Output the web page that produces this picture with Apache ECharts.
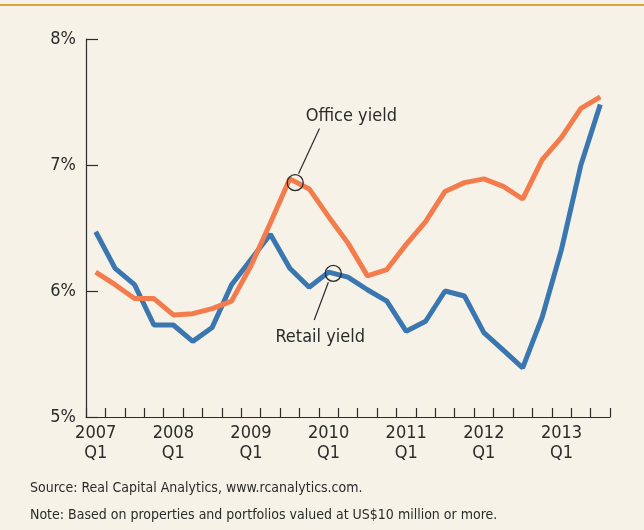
<!DOCTYPE html>
<html>
<head>
<meta charset="utf-8">
<script src="https://cdn.jsdelivr.net/npm/echarts@6/dist/echarts.min.js"></script>
<style>
  html, body { margin: 0; padding: 0; background: #f7f2e8; }
  #main { width: 644px; height: 530px; }
</style>
</head>
<body>
<div id="main"></div>
<script>
// quarters 2007 Q1 .. 2013 Q3
const years = ["2007", "2008", "2009", "2010", "2011", "2012", "2013"];
const quarters = [];
years.forEach((y) => {
  ["Q1", "Q2", "Q3", "Q4"].forEach((q) => quarters.push(y + " " + q));
});
quarters.splice(27);

const retailYield = [6.47, 6.18, 6.05, 5.73, 5.73, 5.60, 5.71, 6.05, 6.25, 6.45,
  6.18, 6.03, 6.15, 6.11, 6.01, 5.92, 5.68, 5.76, 6.00, 5.96,
  5.67, 5.53, 5.39, 5.79, 6.33, 7.00, 7.48];
const officeYield = [6.15, 6.05, 5.94, 5.94, 5.81, 5.82, 5.86, 5.92, 6.20, 6.54,
  6.89, 6.81, 6.59, 6.38, 6.12, 6.17, 6.37, 6.55, 6.79, 6.86,
  6.89, 6.83, 6.73, 7.04, 7.22, 7.45, 7.54];

const yTicks = [5, 6, 7, 8];

// callouts, in (quarter index, yield) units
const officeCircle = [10.28, 6.86];
const officeLeader = [[10.45, 6.93], [11.53, 7.29]];
const officeLabelPos = [13.17, 7.385];
const retailCircle = [12.24, 6.14];
const retailLeader = [[11.99, 6.07], [11.26, 5.77]];
const retailLabelPos = [11.57, 5.635];

const font = '"Liberation Sans Narrow", "DejaVu Sans Condensed", "Roboto", sans-serif';
const ink = "#2b2b2b";

const myChart = echarts.init(document.getElementById("main"), null, {
  width: 644,
  height: 530,
});

const option = {
  backgroundColor: "#f7f2e8",
  animation: false,
  textStyle: { fontFamily: font, color: ink },
  grid: { left: 86, right: 34, top: 39, bottom: 113 },
  xAxis: [
    {
      type: "category",
      data: quarters,
      boundaryGap: true,
      axisLine: { onZero: false, lineStyle: { color: ink, width: 1.2 } },
      axisTick: { show: true, inside: true, length: 9, interval: 0, lineStyle: { color: ink, width: 1.2 } },
      axisLabel: {
        interval: (i) => i % 4 === 0,
        formatter: (v) => v.replace(" ", "\n"),
        fontFamily: font,
        fontSize: 18,
        lineHeight: 20,
        color: ink,
        margin: 6,
      },
      splitLine: { show: false },
    },
    {
      // hidden helper axis for the callouts
      type: "value",
      min: -0.5,
      max: 26.5,
      show: false,
    },
  ],
  yAxis: {
    type: "value",
    min: yTicks[0],
    max: yTicks[yTicks.length - 1],
    interval: 1,
    axisLine: { show: true, onZero: false, lineStyle: { color: ink, width: 1.2 } },
    axisTick: { show: true, inside: true, length: 12, lineStyle: { color: ink, width: 1.2 } },
    axisLabel: {
      formatter: "{value}%",
      fontFamily: font,
      fontSize: 18,
      color: ink,
      margin: 10,
    },
    splitLine: { show: false },
  },
  series: [
    {
      name: "Retail yield",
      type: "line",
      data: retailYield,
      showSymbol: false,
      lineStyle: { color: "#3a76b0", width: 5 },
      z: 2,
    },
    {
      name: "Office yield",
      type: "line",
      data: officeYield,
      showSymbol: false,
      lineStyle: { color: "#f47b4b", width: 5 },
      z: 3,
    },
    {
      type: "line",
      xAxisIndex: 1,
      data: officeLeader,
      showSymbol: false,
      lineStyle: { color: ink, width: 1.2 },
      z: 5,
    },
    {
      type: "line",
      xAxisIndex: 1,
      data: retailLeader,
      showSymbol: false,
      lineStyle: { color: ink, width: 1.2 },
      z: 5,
    },
    {
      type: "scatter",
      xAxisIndex: 1,
      data: [officeCircle, retailCircle],
      symbol: "circle",
      symbolSize: 16,
      itemStyle: { color: "rgba(0,0,0,0)", borderColor: ink, borderWidth: 1.3, opacity: 1 },
      z: 6,
    },
    {
      type: "scatter",
      xAxisIndex: 1,
      symbolSize: 0,
      itemStyle: { opacity: 1 },
      data: [
        { value: officeLabelPos, name: "Office yield" },
        { value: retailLabelPos, name: "Retail yield" },
      ],
      label: {
        show: true,
        position: "inside",
        formatter: (p) => p.name,
        fontFamily: font,
        fontSize: 18,
        color: ink,
      },
      z: 6,
    },
  ],
  graphic: [
    {
      type: "rect",
      left: 0,
      top: 4,
      shape: { width: 644, height: 2 },
      style: { fill: "#e2a13b" },
    },
    {
      type: "text",
      left: 30,
      top: 481,
      style: { text: "Source: Real Capital Analytics, www.rcanalytics.com.", font: "14px " + font, fill: ink },
    },
    {
      type: "text",
      left: 30,
      top: 508,
      style: { text: "Note: Based on properties and portfolios valued at US$10 million or more.", font: "14px " + font, fill: ink },
    },
  ],
};

myChart.setOption(option);
</script>
</body>
</html>
